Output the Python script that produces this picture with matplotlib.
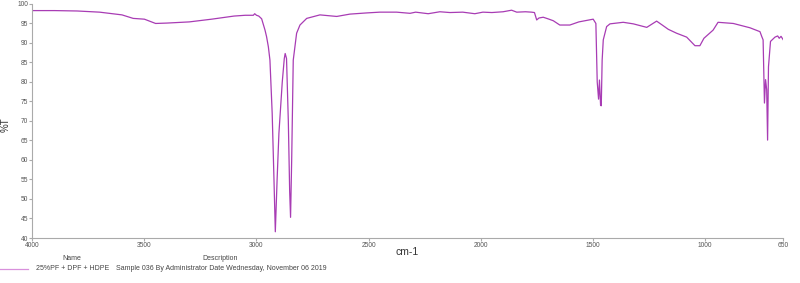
import matplotlib
matplotlib.use('Agg')
import matplotlib.pyplot as plt

# spectrum (wavenumber cm-1, %T)
wavenumber = [4000, 3900, 3800, 3700, 3600, 3550, 3500, 3450, 3400, 3300, 3200, 3100,
              3050, 3014, 3008, 3000, 2990, 2977, 2962, 2955, 2947, 2940, 2930, 2922,
              2916, 2908, 2900, 2885, 2876, 2872, 2866, 2858, 2852, 2848, 2843, 2836,
              2821, 2806, 2776, 2717, 2680, 2642, 2583, 2509, 2450, 2375, 2315, 2290,
              2234, 2182, 2137, 2080, 2026, 1990, 1950, 1900, 1862, 1839, 1800, 1773,
              1760, 1750, 1740, 1721, 1700, 1676, 1647, 1602, 1562, 1498, 1486, 1480,
              1474, 1470, 1465, 1462, 1458, 1453, 1438, 1423, 1364, 1319, 1259, 1215,
              1190, 1163, 1126, 1081, 1044, 1022, 1004, 963, 941, 873, 799, 754, 745,
              740, 734, 729, 724, 720, 716, 707, 687, 675, 668, 660, 650]
transmittance = [98.3, 98.3, 98.2, 97.9, 97.2, 96.3, 96.1, 95.0, 95.1, 95.4, 96.1, 96.9,
                 97.1, 97.1, 97.5, 97.1, 96.9, 96.2, 93.3, 91.6, 89.0, 85.6, 72.0, 55.0,
                 41.6, 55.0, 66.8, 80.0, 86.0, 87.3, 86.0, 70.0, 52.0, 45.3, 60.0, 85.6,
                 92.5, 94.6, 96.3, 97.2, 97.0, 96.8, 97.4, 97.7, 97.9, 97.9, 97.6, 97.9,
                 97.5, 98.0, 97.8, 97.9, 97.5, 97.9, 97.8, 98.0, 98.4, 97.9, 98.0, 97.9,
                 97.8, 95.9, 96.4, 96.6, 96.2, 95.7, 94.6, 94.6, 95.4, 96.1, 95.0, 80.0,
                 75.6, 80.5, 74.0, 73.9, 85.6, 90.8, 94.2, 94.9, 95.3, 94.9, 94.0, 95.6,
                 94.6, 93.5, 92.5, 91.5, 89.3, 89.3, 91.2, 93.3, 95.3, 95.0, 93.9, 92.9,
                 91.5, 90.8, 74.6, 80.6, 78.0, 65.1, 83.9, 90.4, 91.5, 91.8, 91.2, 91.7,
                 90.8]

y_ticks = list(range(40, 101, 5))
x_ticks = [4000, 3500, 3000, 2500, 2000, 1500, 1000, 650]
sample_name = '25%PF + DPF + HDPE'
description = 'Sample 036 By Administrator Date Wednesday, November 06 2019'

line_color = '#a83cb4'
tick_color = '#555555'
plt.rcParams['font.family'] = ['Liberation Sans', 'DejaVu Sans']

fig = plt.figure(figsize=(8, 2.83), dpi=100)
ax = fig.add_axes([0.0404, 0.159, 0.9387, 0.827])
ax.plot(wavenumber, transmittance, color=line_color, linewidth=0.9)
ax.set_xlim(4000, 650)
ax.set_ylim(40, 100)
ax.set_xticks(x_ticks)
ax.set_yticks(y_ticks)
ax.tick_params(labelsize=4.8, colors='#aaaaaa', labelcolor=tick_color, length=2.5, width=0.8, pad=0.5)
for side in ['top', 'right']:
    ax.spines[side].set_visible(False)
for side in ['left', 'bottom']:
    ax.spines[side].set_color('#aaaaaa')
    ax.spines[side].set_linewidth(0.8)

fig.text(407 / 800, 1 - 252 / 283, 'cm-1', ha='center', va='center', fontsize=7.5, color='#333333')
fig.text(6 / 800, 1 - 125 / 283, '%T', ha='center', va='center', rotation=90, fontsize=7, color='#333333')

# legend table under the plot
fig.text(72 / 800, 1 - 259 / 283, 'Name', ha='center', va='center', fontsize=5, color='#444444')
fig.text(220 / 800, 1 - 259 / 283, 'Description', ha='center', va='center', fontsize=5, color='#444444')
y_row = 1 - 269 / 283
fig.add_artist(plt.Line2D([0.0, 28 / 800], [y_row, y_row], color='#d890dc', linewidth=0.9,
                          transform=fig.transFigure))
fig.text(36 / 800, y_row, sample_name, ha='left', va='center', fontsize=5, color='#444444')
fig.text(116 / 800, y_row, description, ha='left', va='center', fontsize=5, color='#444444')

fig.savefig('out.png', dpi=100)
